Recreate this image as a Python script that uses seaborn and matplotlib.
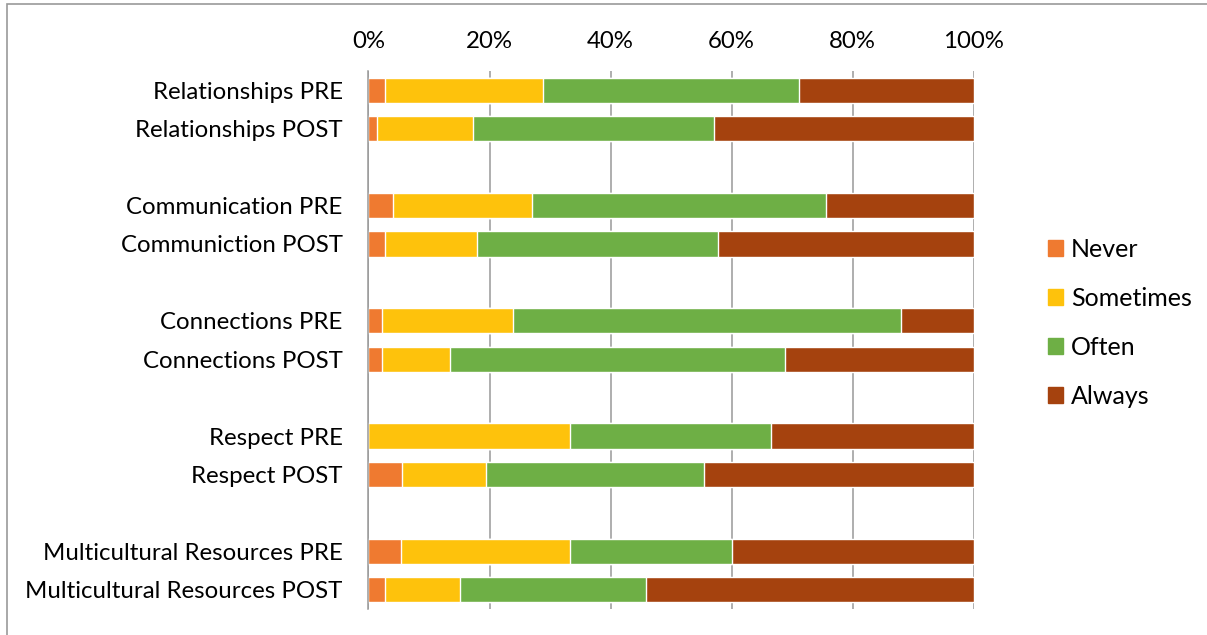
import pandas as pd
import matplotlib
matplotlib.use("Agg")
import matplotlib.pyplot as plt
import matplotlib.patches as mpatches
import seaborn as sns

# rows of the chart (spacer rows are empty strings made unique with spaces)
categories = ["Relationships PRE", "Relationships POST",
              "Communication PRE", "Communiction POST",
              "Connections PRE", "Connections POST",
              "Respect PRE", "Respect POST",
              "Multicultural Resources PRE", "Multicultural Resources POST"]
row_order = ["Relationships PRE", "Relationships POST", " ",
             "Communication PRE", "Communiction POST", "  ",
             "Connections PRE", "Connections POST", "   ",
             "Respect PRE", "Respect POST", "    ",
             "Multicultural Resources PRE", "Multicultural Resources POST"]

responses = ["Never", "Sometimes", "Often", "Always"]
never = [2.8, 1.4, 4.0, 2.8, 2.3, 2.2, 0.0, 5.5, 5.3, 2.7]
sometimes = [26.0, 15.8, 23.0, 15.1, 21.5, 11.2, 33.3, 14.0, 28.0, 12.5]
often = [42.4, 39.9, 48.6, 39.9, 64.2, 55.4, 33.3, 36.0, 26.7, 30.6]
always = [28.8, 42.9, 24.4, 42.2, 12.0, 31.2, 33.4, 44.5, 40.0, 54.2]

colors = ["#EF7A30", "#FEC20C", "#6EAF45", "#A5420E"]
tick_labels = ["0%", "20%", "40%", "60%", "80%", "100%"]

df = pd.DataFrame({"row": categories, "Never": never, "Sometimes": sometimes,
                   "Often": often, "Always": always})
df = df.set_index("row")
cum = df[responses].cumsum(axis=1)
# normalise to 100%
cum = cum.div(cum["Always"], axis=0) * 100
cum = cum.reset_index()

sns.set_style("white")
plt.rcParams["font.family"] = ["Lato", "DejaVu Sans"]
plt.rcParams["text.color"] = "black"
plt.rcParams["xtick.color"] = "black"
plt.rcParams["ytick.color"] = "black"

fig = plt.figure(figsize=(12.07, 6.35), dpi=100)
ax = fig.add_axes([0.3053, 0.0409, 0.5013, 0.8473])

# stacked bars: draw cumulative totals from the widest down
for resp, col in reversed(list(zip(responses, colors))):
    sns.barplot(data=cum, y="row", x=resp, order=row_order, orient="h",
                color=col, width=0.66, saturation=1, ax=ax, zorder=3)

ax.set_xlim(0, 100)
ax.set_xticks([0, 20, 40, 60, 80, 100])
ax.set_xticklabels(tick_labels, fontsize=17.3)
ax.xaxis.tick_top()
ax.tick_params(axis="x", length=0, pad=14)
ax.tick_params(axis="y", length=0, pad=18.5, labelsize=17.3)
ax.set_xlabel("")
ax.set_ylabel("")
ax.grid(axis="x", color="#999999", linewidth=1.1, zorder=0)
ax.set_axisbelow(True)
for side in ["top", "right", "bottom"]:
    ax.spines[side].set_visible(False)
ax.spines["left"].set_color("#999999")
ax.spines["left"].set_linewidth(1.1)
ax.spines["left"].set_zorder(5)

handles = [mpatches.Patch(color=c, label=r) for r, c in zip(responses, colors)]
fig.legend(handles=handles, loc="center left", bbox_to_anchor=(0.850, 0.492),
           frameon=False, fontsize=18, handlelength=0.6, handleheight=0.6,
           handletextpad=0.3, labelspacing=1.04)

# outer chart frame (only top and left edges show in the picture)
fig.patches.append(mpatches.Rectangle((0.006, -0.05), 1.1, 1.044,
                                      transform=fig.transFigure, fill=False,
                                      edgecolor="#999999", linewidth=1.2))

fig.savefig("out.png", dpi=100)
